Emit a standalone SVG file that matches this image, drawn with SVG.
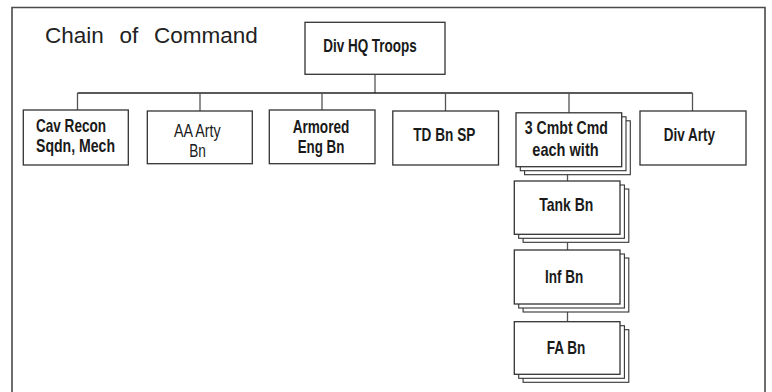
<svg xmlns="http://www.w3.org/2000/svg" width="772" height="392" viewBox="0 0 772 392">
<style>
.frame{fill:none;stroke:#4a4a4a;stroke-width:1.6}
.box{fill:#fff;stroke:#333;stroke-width:1.3}
.sh{fill:#fff;stroke:#333;stroke-width:1.1}
.t{font-family:"Liberation Sans",Arial,sans-serif;font-size:18.5px;font-weight:bold;fill:#1a1a1a;text-anchor:middle}
.r{font-weight:normal}
.title{font-family:"Liberation Sans",Arial,sans-serif;font-size:22.5px;fill:#222;word-spacing:9.5px}
.bus{fill:none;stroke:#222;stroke-width:1.3}
.drop{fill:none;stroke:#555;stroke-width:1.3}
</style>
<rect width="772" height="392" fill="#fff"/>
<path class="frame" d="M12,392 V7.5 H765 V392"/>
<text class="title" x="45" y="43">Chain of Command</text>
<g id="connectors">
<path class="drop" d="M375,74 V93"/>
<path class="bus" d="M77.5,93 H692.5"/>
<path class="drop" d="M77.5,93 V110 M200,93 V111 M322,93 V110 M445.5,93 V111 M569,93 V113 M692.5,93 V111"/>
<path class="drop" d="M567.5,174.5 V181 M567.5,242.5 V250 M567.5,312 V321.7"/>
</g>
<g id="hq">
<rect class="box" x="305" y="22.3" width="140" height="52"/>
<text class="t" x="370" y="52" textLength="93.7" lengthAdjust="spacingAndGlyphs">Div HQ Troops</text>
</g>
<g id="cav">
<rect class="box" x="23.3" y="110" width="105" height="55"/>
<text class="t" x="36" y="131.7" style="text-anchor:start" textLength="70" lengthAdjust="spacingAndGlyphs">Cav Recon</text>
<text class="t" x="36" y="151.7" style="text-anchor:start" textLength="79" lengthAdjust="spacingAndGlyphs">Sqdn, Mech</text>
</g>
<g id="aa">
<rect class="box" x="147.3" y="111" width="105" height="52.7"/>
<text class="t r" x="197.3" y="136.7" textLength="46.7" lengthAdjust="spacingAndGlyphs">AA Arty</text>
<text class="t r" x="197.6" y="156.7" textLength="16.7" lengthAdjust="spacingAndGlyphs">Bn</text>
</g>
<g id="eng">
<rect class="box" x="269.3" y="110" width="105.7" height="53.7"/>
<text class="t" x="321" y="132.7" textLength="56.7" lengthAdjust="spacingAndGlyphs">Armored</text>
<text class="t" x="321" y="153.3" textLength="46.7" lengthAdjust="spacingAndGlyphs">Eng Bn</text>
</g>
<g id="td">
<rect class="box" x="392.8" y="111" width="105.7" height="54"/>
<text class="t" x="444.3" y="141.4" textLength="62" lengthAdjust="spacingAndGlyphs">TD Bn SP</text>
</g>
<g id="cmbt">
<rect class="sh" x="524.6" y="120.8" width="105.7" height="53.9"/>
<rect class="sh" x="520.3" y="116.8" width="105.7" height="53.9"/>
<rect class="box" x="516" y="112.8" width="105.7" height="53.9"/>
<text class="t" x="566.4" y="133.7" textLength="83.2" lengthAdjust="spacingAndGlyphs">3 Cmbt Cmd</text>
<text class="t" x="565.5" y="155.5" textLength="66.3" lengthAdjust="spacingAndGlyphs">each with</text>
</g>
<g id="divarty">
<rect class="box" x="640" y="111" width="106" height="54"/>
<text class="t" x="689.4" y="141.4" textLength="51.2" lengthAdjust="spacingAndGlyphs">Div Arty</text>
</g>
<g id="tank">
<rect class="sh" x="523.1" y="189" width="105.7" height="53.3"/>
<rect class="sh" x="518.7" y="185" width="105.7" height="53.3"/>
<rect class="box" x="514.3" y="181" width="105.7" height="53.3"/>
<text class="t" x="566.3" y="210.7" textLength="54" lengthAdjust="spacingAndGlyphs">Tank Bn</text>
</g>
<g id="inf">
<rect class="sh" x="523.1" y="258" width="105.7" height="54"/>
<rect class="sh" x="518.7" y="254" width="105.7" height="54"/>
<rect class="box" x="514.3" y="250" width="105.7" height="54"/>
<text class="t" x="564.2" y="283.3" textLength="38.3" lengthAdjust="spacingAndGlyphs">Inf Bn</text>
</g>
<g id="fa">
<rect class="sh" x="523.1" y="329.7" width="105.7" height="52.6"/>
<rect class="sh" x="518.7" y="325.7" width="105.7" height="52.6"/>
<rect class="box" x="514.3" y="321.7" width="105.7" height="52.6"/>
<text class="t" x="566" y="354" textLength="38.7" lengthAdjust="spacingAndGlyphs">FA Bn</text>
</g>
</svg>
